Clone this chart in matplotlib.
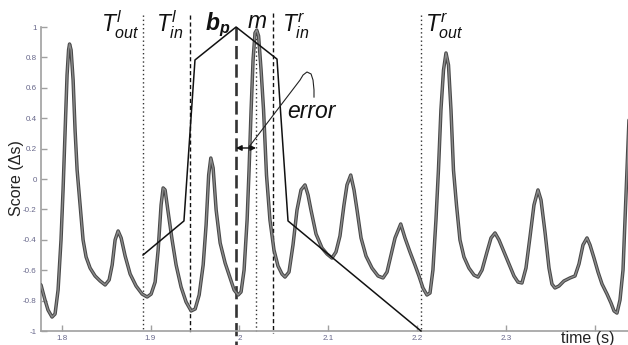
import matplotlib
matplotlib.use("Agg")
import matplotlib.pyplot as plt

plt.rcParams['font.family'] = ['Liberation Sans', 'DejaVu Sans']
plt.rcParams['mathtext.fontset'] = 'custom'
plt.rcParams['mathtext.it'] = 'Liberation Sans:italic'
plt.rcParams['mathtext.rm'] = 'Liberation Sans'
plt.rcParams['mathtext.bf'] = 'Liberation Sans:bold'
plt.rcParams['mathtext.bfit'] = 'Liberation Sans:bold:italic'

# ---- data ----
time = [1.7769, 1.7814, 1.7848, 1.7893, 1.7927, 1.7961, 1.7994, 1.8017, 1.8040, 1.8062,
        1.8079, 1.8090, 1.8107, 1.8130, 1.8152, 1.8175, 1.8209, 1.8242, 1.8276, 1.8321,
        1.8377, 1.8434, 1.8490, 1.8535, 1.8569, 1.8602, 1.8636, 1.8670, 1.8715, 1.8771,
        1.8838, 1.8906, 1.8962, 1.9007, 1.9052, 1.9086, 1.9119, 1.9142, 1.9164, 1.9198,
        1.9243, 1.9288, 1.9344, 1.9400, 1.9457, 1.9502, 1.9547, 1.9592, 1.9625, 1.9654,
        1.9678, 1.9704, 1.9738, 1.9783, 1.9839, 1.9895, 1.9940, 1.9985, 2.0018, 2.0052,
        2.0086, 2.0108, 2.0131, 2.0153, 2.0175, 2.0194, 2.0215, 2.0243, 2.0271, 2.0304,
        2.0343, 2.0388, 2.0433, 2.0478, 2.0512, 2.0557, 2.0602, 2.0647, 2.0692, 2.0737,
        2.0771, 2.0804, 2.0861, 2.0928, 2.0984, 2.1040, 2.1085, 2.1130, 2.1175, 2.1209,
        2.1251, 2.1288, 2.1322, 2.1367, 2.1423, 2.1490, 2.1558, 2.1614, 2.1659, 2.1704,
        2.1749, 2.1813, 2.1861, 2.1917, 2.1973, 2.2018, 2.2063, 2.2108, 2.2142, 2.2175,
        2.2209, 2.2237, 2.2265, 2.2294, 2.2322, 2.2350, 2.2378, 2.2406, 2.2440, 2.2479,
        2.2524, 2.2580, 2.2637, 2.2682, 2.2727, 2.2783, 2.2828, 2.2873, 2.2918, 2.2974,
        2.3030, 2.3086, 2.3131, 2.3176, 2.3221, 2.3266, 2.3311, 2.3356, 2.3390, 2.3435,
        2.3480, 2.3513, 2.3547, 2.3592, 2.3648, 2.3716, 2.3772, 2.3817, 2.3862, 2.3907,
        2.3941, 2.3986, 2.4031, 2.4076, 2.4132, 2.4177, 2.4211, 2.4244, 2.4278, 2.4312,
        2.4334, 2.4357, 2.4379]
score = [-0.697, -0.796, -0.862, -0.908, -0.888, -0.730, -0.401, -0.072, 0.322, 0.684,
         0.849, 0.888, 0.849, 0.651, 0.322, 0.059, -0.171, -0.401, -0.513, -0.586,
         -0.638, -0.671, -0.697, -0.664, -0.566, -0.401, -0.342, -0.388, -0.507, -0.625,
         -0.704, -0.757, -0.776, -0.757, -0.678, -0.467, -0.171, -0.059, -0.072, -0.217,
         -0.401, -0.566, -0.711, -0.809, -0.868, -0.855, -0.763, -0.566, -0.303, 0.026,
         0.138, 0.072, -0.204, -0.421, -0.553, -0.651, -0.730, -0.763, -0.743, -0.599,
         -0.270, 0.059, 0.454, 0.783, 0.961, 0.980, 0.941, 0.717, 0.454, 0.026,
         -0.270, -0.467, -0.572, -0.625, -0.645, -0.612, -0.434, -0.204, -0.072, -0.039,
         -0.105, -0.204, -0.362, -0.454, -0.493, -0.520, -0.480, -0.375, -0.171, -0.039,
         0.026, -0.072, -0.204, -0.388, -0.507, -0.586, -0.638, -0.651, -0.612, -0.500,
         -0.388, -0.296, -0.388, -0.480, -0.566, -0.638, -0.717, -0.763, -0.750, -0.599,
         -0.270, 0.059, 0.454, 0.717, 0.829, 0.750, 0.454, 0.059, -0.171, -0.401,
         -0.513, -0.586, -0.632, -0.645, -0.599, -0.480, -0.388, -0.355, -0.401, -0.480,
         -0.559, -0.638, -0.678, -0.684, -0.586, -0.382, -0.171, -0.072, -0.138, -0.349,
         -0.586, -0.691, -0.717, -0.704, -0.671, -0.651, -0.638, -0.559, -0.434, -0.388,
         -0.434, -0.520, -0.612, -0.691, -0.757, -0.816, -0.868, -0.882, -0.796, -0.599,
         -0.270, 0.059, 0.388]

# piecewise-linear template (black line)
tmpl_t = [1.8916, 1.9376, 1.9500, 1.9962, 2.0422, 2.0546, 2.2041]
tmpl_s = [-0.500, -0.276, 0.783, 1.000, 0.789, -0.276, -1.000]

# vertical markers
t_out_l, t_in_l, b_p, m_pos, t_in_r, t_out_r = 1.8916, 1.9444, 1.9962, 2.0186, 2.0378, 2.2041

# error annotation leader
lead_t = [2.0107, 2.0681, 2.0715, 2.0759, 2.0805, 2.0827, 2.0838, 2.0838]
lead_s = [0.211, 0.651, 0.684, 0.704, 0.691, 0.651, 0.586, 0.539]
err_y = 0.204

xticks = [1.8, 1.9, 2.0, 2.1, 2.2, 2.3, 2.4]
xticklabels = ['1.8', '1.9', '2', '2.1', '2.2', '2.3', '']
yticks = [-1, -0.8, -0.6, -0.4, -0.2, 0, 0.2, 0.4, 0.6, 0.8, 1]
yticklabels = ['-1', '-0.8', '-0.6', '-0.4', '-0.2', '0', '0.2', '0.4', '0.6', '0.8', '1']

# ---- figure ----
fig = plt.figure(figsize=(6.28, 3.45), dpi=100)
ax = fig.add_axes([41/628, 1-331/345, 1-41/628, (331-27)/345])
ax.set_xlim(1.7769, 2.4368)
ax.set_ylim(-1, 1)

ax.plot(time, score, color='#484848', lw=2.5, solid_capstyle='round',
        solid_joinstyle='round', zorder=3)
ax.plot(time, score, color='#8a8a8a', lw=1.0, solid_joinstyle='round', zorder=3.1)

ax.plot(tmpl_t, tmpl_s, color='#111111', lw=1.1, zorder=4, clip_on=False)

kw = dict(clip_on=False, zorder=2)
ax.plot([t_out_l]*2, [1.079, -1.0], color='#333333', lw=1.0, linestyle=(0, (1, 2)), **kw)
ax.plot([t_in_l]*2, [1.079, -1.013], color='#111111', lw=1.0, linestyle=(0, (3, 2)), **kw)
ax.plot([b_p]*2, [1.0, -1.09], color='#333333', lw=1.9, linestyle=(0, (5, 2)), **kw)
ax.plot([m_pos]*2, [0.98, -1.0], color='#333333', lw=1.0, linestyle=(0, (1, 2)), **kw)
ax.plot([t_in_r]*2, [1.092, -1.013], color='#111111', lw=1.0, linestyle=(0, (3, 2)), **kw)
ax.plot([t_out_r]*2, [1.079, -1.0], color='#333333', lw=1.0, linestyle=(0, (1, 2)), **kw)

# error double arrow + leader
ax.annotate('', xy=(b_p, err_y), xytext=(m_pos, err_y),
            arrowprops=dict(arrowstyle='<|-|>', color='#111111', lw=1.0,
                            mutation_scale=8, shrinkA=0, shrinkB=0), zorder=5)
ax.plot(lead_t, lead_s, color='#222222', lw=0.8, zorder=5)

# labels
fs = 16.5
tk = dict(fontsize=fs, ha='left', va='baseline', color='#111111', clip_on=False)
ax.text(1.8444, 0.961, r'$T^{l}_{out}$', **tk)
ax.text(1.9062, 0.961, r'$T^{l}_{in}$', **tk)
ax.text(1.9613, 0.980, r'$\mathbfit{b}_{\mathbfit{p}}$', **tk)
ax.text(2.0085, 0.993, r'$m$', **tk)
ax.text(2.0479, 0.961, r'$T^{r}_{in}$', **tk)
ax.text(2.2086, 0.967, r'$T^{r}_{out}$', **tk)
ax.text(2.0535, 0.401, 'error', fontsize=fs, style='italic', ha='left', va='baseline', color='#111111')

# axes styling
for s in ['top', 'right']:
    ax.spines[s].set_visible(False)
for s in ['left', 'bottom']:
    ax.spines[s].set_color('#a0a0a0')
    ax.spines[s].set_linewidth(1.2)
ax.set_xticks(xticks)
ax.set_xticklabels(xticklabels)
ax.set_yticks(yticks)
ax.set_yticklabels(yticklabels)
ax.tick_params(direction='in', length=4, width=1.0, color='#a0a0a0',
               labelsize=5.8, labelcolor='#66668a', pad=3)

fig.text(17/628, (345-178)/345, 'Score (\u0394s)', rotation=90, ha='center', va='center',
         fontsize=11.5, color='#222222')
fig.text(588/628, 2/345, 'time (s)', ha='center', va='baseline', fontsize=11.5, color='#222222')

fig.savefig('out.png', dpi=100)
